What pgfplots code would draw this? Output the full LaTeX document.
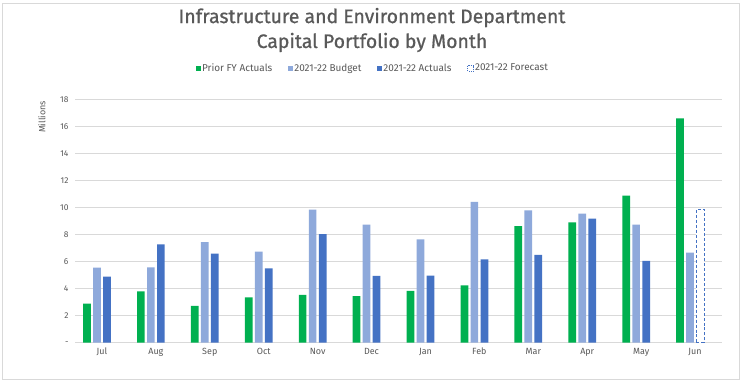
\documentclass[border=0pt]{standalone}
\usepackage{fontspec}
\setmainfont{Fira Sans}
\newfontfamily\titlefont[FakeBold=0.8]{Fira Sans}
\usepackage{pgfplots}
\pgfplotsset{compat=1.18}
\definecolor{cgreen}{HTML}{00B050}
\definecolor{clight}{HTML}{8EA9DB}
\definecolor{cdark}{HTML}{4472C4}
\definecolor{tgray}{HTML}{595959}
\definecolor{ggray}{HTML}{D9D9D9}
\begin{document}
\begin{tikzpicture}[x=1bp,y=1bp]
\path[fill=white] (0,0) rectangle (743,382);
\draw[ggray, line width=0.8bp] (2,3) rectangle (739,379);
\node[text=tgray, font=\titlefont\fontsize{19.5}{25}\selectfont, align=center] at (372,352) {Infrastructure and Environment Department\\Capital Portfolio by Month};
\node[text=tgray, font=\fontsize{9}{10}\selectfont, rotate=90] at (42,265) {Millions};
\begin{axis}[at={(75bp,39.3bp)}, anchor=south west, scale only axis,
  width=647bp, height=243bp,
  xmin=-0.5, xmax=11.5, ymin=0, ymax=18,
  ytick={0,2,...,18}, yticklabels={-,2,4,6,8,10,12,14,16,18},
  xtick={0,...,11}, xticklabels={Jul,Aug,Sep,Oct,Nov,Dec,Jan,Feb,Mar,Apr,May,Jun},
  axis line style={draw=none}, major tick style={draw=none},
  ymajorgrids, grid style={ggray, line width=0.8bp},
  yticklabel style={font=\fontsize{8.5}{10}\selectfont, text=tgray, xshift=-3bp},
  xticklabel style={font=\fontsize{9}{10}\selectfont, text=tgray, yshift=-2bp},
  legend columns=4,
  legend style={at={(0.4606,1.13)}, anchor=center, draw=none, fill=none,
    font=\fontsize{10}{11}\selectfont, text=tgray,
    /tikz/every even column/.append style={column sep=14bp},
    /tikz/every odd column/.append style={column sep=-1bp}},
]
\addplot[ybar, bar width=0.143, bar shift=-0.278, fill=cgreen, draw=none,
  legend image code/.code={\fill[cgreen] (0bp,-2.5bp) rectangle (5bp,2.5bp);}] coordinates {
(0,2.89) (1,3.8) (2,2.72) (3,3.35) (4,3.55) (5,3.45) (6,3.83) (7,4.25) (8,8.64) (9,8.92) (10,10.89) (11,16.62)};
\addlegendentry{Prior FY Actuals}
\addplot[ybar, bar width=0.143, bar shift=-0.093, fill=clight, draw=none,
  legend image code/.code={\fill[clight] (0bp,-2.5bp) rectangle (5bp,2.5bp);}] coordinates {
(0,5.56) (1,5.58) (2,7.45) (3,6.75) (4,9.85) (5,8.75) (6,7.66) (7,10.44) (8,9.8) (9,9.56) (10,8.74) (11,6.67)};
\addlegendentry{2021-22 Budget}
\addplot[ybar, bar width=0.143, bar shift=0.093, fill=cdark, draw=none,
  legend image code/.code={\fill[cdark] (0bp,-2.5bp) rectangle (5bp,2.5bp);}] coordinates {
(0,4.89) (1,7.28) (2,6.6) (3,5.5) (4,8.05) (5,4.95) (6,4.96) (7,6.18) (8,6.5) (9,9.19) (10,6.07)};
\addlegendentry{2021-22 Actuals}
\addplot[ybar, bar width=0.143, bar shift=0.093, fill=white, draw=cdark, densely dashed, line width=0.7bp,
  legend image code/.code={\draw[cdark, dash pattern=on 1.2bp off 1bp, line width=0.6bp, fill=white] (0bp,-3bp) rectangle (6bp,3bp);}] coordinates {(11,9.88)};
\addlegendentry{2021-22 Forecast}
\end{axis}
\end{tikzpicture}
\end{document}
